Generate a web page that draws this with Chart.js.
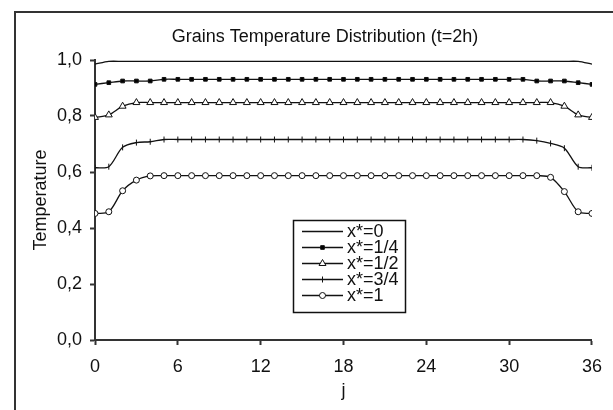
<!DOCTYPE html>
<html>
<head>
<meta charset="utf-8">
<script src="https://cdn.jsdelivr.net/npm/chart.js@4"></script>
<style>
body{margin:0;background:#fff;}
</style>
</head>
<body>
<canvas id="myChart" width="613" height="410"></canvas>
<script>
var jValues = [0,1,2,3,4,5,6,7,8,9,10,11,12,13,14,15,16,17,18,19,20,21,22,23,24,25,26,27,28,29,30,31,32,33,34,35,36];
var seriesNames = ['x*=0', 'x*=1/4', 'x*=1/2', 'x*=3/4', 'x*=1'];
var temp0 = [0.985,
  0.995,0.995,0.995,0.995,0.995,0.995,0.995,0.995,0.995,0.995,
  0.995,0.995,0.995,0.995,0.995,0.995,0.995,0.995,0.995,0.995,
  0.995,0.995,0.995,0.995,0.995,0.995,0.995,0.995,0.995,0.995,
  0.995,0.995,0.995,0.995,0.995,
  0.985];
var temp1 = [0.913,0.919,0.925,0.925,0.925,
  0.931,0.931,0.931,0.931,0.931,0.931,0.931,0.931,0.931,0.931,
  0.931,0.931,0.931,0.931,0.931,0.931,0.931,0.931,0.931,0.931,
  0.931,0.931,0.931,0.931,0.931,0.931,0.931,
  0.925,0.925,0.925,0.919,0.913];
var temp2 = [0.795,0.804,0.835,
  0.848,0.848,0.848,0.848,0.848,0.848,0.848,0.848,0.848,0.848,
  0.848,0.848,0.848,0.848,0.848,0.848,0.848,0.848,0.848,0.848,
  0.848,0.848,0.848,0.848,0.848,0.848,0.848,0.848,0.848,0.848,
  0.848,
  0.835,0.804,0.795];
var temp3 = [0.615,0.619,0.688,0.705,0.708,
  0.716,0.716,0.716,0.716,0.716,0.716,0.716,0.716,0.716,0.716,
  0.716,0.716,0.716,0.716,0.716,0.716,0.716,0.716,0.716,0.716,
  0.716,0.716,0.716,0.716,0.716,0.716,0.716,
  0.712,0.702,0.685,0.619,0.615];
var temp4 = [0.452,0.458,0.533,0.571,0.586,
  0.587,0.587,0.587,0.587,0.587,0.587,0.587,0.587,0.587,0.587,
  0.587,0.587,0.587,0.587,0.587,0.587,0.587,0.587,0.587,0.587,
  0.587,0.587,0.587,0.587,0.587,0.587,0.587,0.587,
  0.581,0.530,0.458,0.452];
var yTicks = [0, 0.2, 0.4, 0.6, 0.8, 1.0];
var xTicks = [0, 6, 12, 18, 24, 30, 36];
var chartTitle = 'Grains Temperature Distribution (t=2h)';

var FONT = 'Liberation Sans, Arial, sans-serif';
var FS = 18;

function pts(vals){
  var out = [];
  for (var i = 0; i < jValues.length; ++i) out.push({x: jValues[i], y: vals[i]});
  return out;
}

var styles = [
  {pointStyle: 'circle', radius: 0, bg: '#000', rot: 0},
  {pointStyle: 'rect', radius: 2.6, bg: '#000', rot: 0},
  {pointStyle: 'triangle', radius: 4, bg: '#fff', rot: 0},
  {pointStyle: 'line', radius: 3, bg: '#000', rot: 90},
  {pointStyle: 'circle', radius: 3, bg: '#fff', rot: 0}
];
var allTemps = [temp0, temp1, temp2, temp3, temp4];

var datasets = [];
for (var s = 0; s < allTemps.length; ++s) {
  datasets.push({
    label: seriesNames[s],
    data: pts(allTemps[s]),
    borderColor: '#111',
    borderWidth: 1.3,
    backgroundColor: styles[s].bg,
    pointStyle: styles[s].pointStyle,
    pointRadius: styles[s].radius,
    pointRotation: styles[s].rot,
    pointBorderColor: '#111',
    pointBorderWidth: 1,
    pointBackgroundColor: styles[s].bg,
    tension: 0.3,
    fill: false
  });
}

// outer frame, title and boxed legend inside the plot
var framePlugin = {
  id: 'frame',
  beforeDraw: function(chart){
    var c = chart.ctx;
    c.save();
    c.fillStyle = '#fff';
    c.fillRect(0, 0, chart.width, chart.height);
    c.strokeStyle = '#333';
    c.lineWidth = 2;
    c.strokeRect(15, 12, 700, 500);
    c.fillStyle = '#111';
    c.font = FS + 'px ' + FONT;
    c.textAlign = 'center';
    c.textBaseline = 'middle';
    c.fillText(chartTitle, 325, 37);
    c.restore();
  },
  afterDraw: function(chart){
    var c = chart.ctx;
    var bx = 293, by = 220, bw = 112, bh = 92;
    c.save();
    c.fillStyle = '#fff';
    c.fillRect(bx, by, bw, bh);
    c.strokeStyle = '#111';
    c.lineWidth = 1.5;
    c.strokeRect(bx + 0.5, by + 0.5, bw, bh);
    c.font = FS + 'px ' + FONT;
    c.textBaseline = 'middle';
    for (var i = 0; i < chart.data.datasets.length; ++i) {
      var ds = chart.data.datasets[i];
      var y = by + 11 + i * 16;
      c.strokeStyle = '#111';
      c.lineWidth = 1.3;
      c.beginPath();
      c.moveTo(bx + 9, y + 0.5);
      c.lineTo(bx + 50, y + 0.5);
      c.stroke();
      if (ds.pointRadius > 0) {
        c.fillStyle = ds.pointBackgroundColor;
        c.lineWidth = 1;
        Chart.helpers.drawPoint(c, {
          pointStyle: ds.pointStyle, rotation: ds.pointRotation,
          radius: ds.pointRadius, borderWidth: 1
        }, bx + 29.5, y + 0.5);
      }
      c.fillStyle = '#111';
      c.fillText(ds.label, bx + 54, y + 1);
    }
    c.restore();
  }
};

var ctx = document.getElementById('myChart').getContext('2d');
var chart = new Chart(ctx, {
  type: 'line',
  data: {datasets: datasets},
  options: {
    responsive: false,
    animation: false,
    layout: {padding: {left: 30, right: 18, top: 60, bottom: 0}},
    plugins: {
      legend: {display: false},
      tooltip: {enabled: false},
      title: {display: false}
    },
    scales: {
      x: {
        type: 'linear',
        min: 0, max: 36,
        afterBuildTicks: function(axis){ axis.ticks = xTicks.map(function(v){ return {value: v}; }); },
        ticks: {color: '#111', font: {family: FONT, size: FS}, padding: 11, maxRotation: 0},
        grid: {display: true, drawOnChartArea: false, drawTicks: true, tickLength: 5, tickColor: '#333', tickWidth: 2},
        border: {display: true, color: '#333', width: 2},
        title: {display: true, text: 'j', color: '#111', font: {family: FONT, size: FS}, padding: {top: 0, bottom: 8}},
        afterFit: function(axis){ axis.height = 70; }
      },
      y: {
        min: 0, max: 1,
        afterBuildTicks: function(axis){ axis.ticks = yTicks.map(function(v){ return {value: v}; }); },
        ticks: {color: '#111', font: {family: FONT, size: FS}, padding: 8,
          callback: function(v){ return v.toFixed(1).replace('.', ','); }},
        grid: {display: true, drawOnChartArea: false, drawTicks: true, tickLength: 5, tickColor: '#333', tickWidth: 2},
        border: {display: true, color: '#333', width: 2},
        title: {display: true, text: 'Temperature', color: '#111', font: {family: FONT, size: FS}, padding: {top: 0, bottom: 0}},
        afterFit: function(axis){ axis.width = 65; }
      }
    }
  },
  plugins: [framePlugin]
});
</script>
</body>
</html>
